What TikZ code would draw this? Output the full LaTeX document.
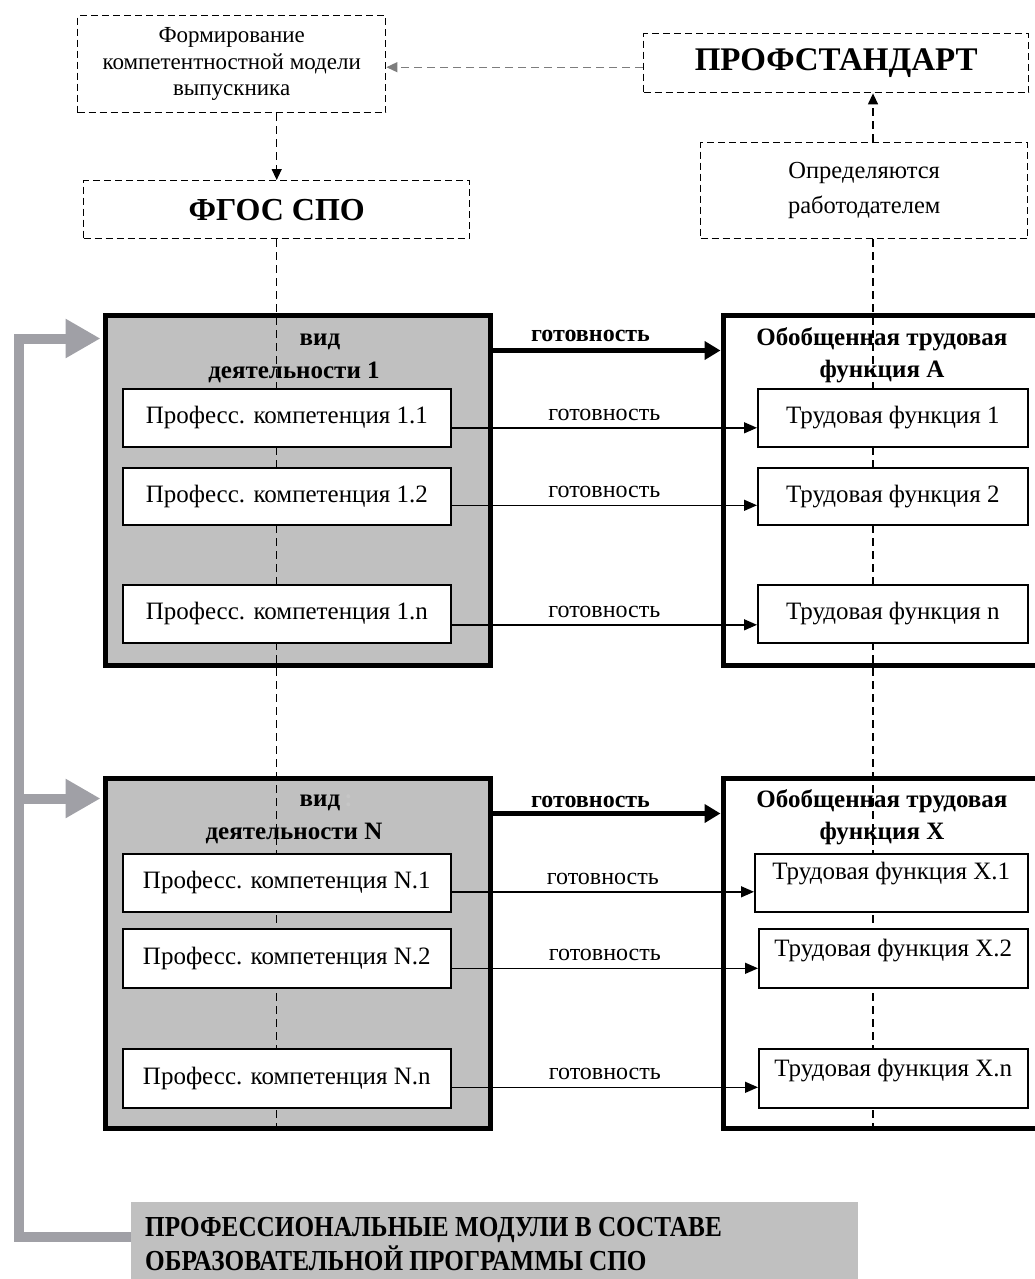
\documentclass[tikz,border=0pt]{standalone}
\usepackage{fontspec}
\setmainfont{Liberation Serif}[BoldFont={Liberation Serif Bold}]
\newfontfamily\condfont[FakeStretch=0.87,BoldFont={Liberation Serif Bold}]{Liberation Serif}
\usetikzlibrary{arrows.meta,calc}
\definecolor{boxgray}{RGB}{192,192,192}
\definecolor{linkgray}{RGB}{160,160,166}
\definecolor{dashgray}{RGB}{125,125,125}
\newcommand\myfs[2]{\fontsize{#1}{#2}\selectfont}
\begin{document}
\begin{tikzpicture}[x=1pt,y=-1pt,
  dbox/.style={draw, dash pattern=on 7pt off 4pt, line width=1.4pt, anchor=north west, inner sep=0pt, align=center},
  gbox/.style={draw, fill=boxgray, line width=5pt, anchor=north west, inner sep=0pt},
  wfbox/.style={draw, fill=white, line width=5pt, anchor=north west, inner sep=0pt},
  wbox/.style={draw, fill=white, line width=1.6pt, anchor=north west, inner sep=0pt, font=\myfs{25}{30}},
  ebox/.style={draw, fill=white, line width=1.6pt, anchor=north west, inner sep=0pt},
  dline/.style={dash pattern=on 8pt off 5pt, line width=1.3pt},
  darrow/.style={dline, -{Triangle[length=11pt,width=10pt]}},
  tarrow/.style={line width=1.4pt, -{Triangle[length=13pt,width=11pt]}},
  barrow/.style={line width=5pt, -{Triangle[length=16pt,width=18pt]}},
  gline/.style={line width=10pt, draw=linkgray},
  lab/.style={font=\myfs{24}{28}, inner sep=0pt},
  tlab/.style={font=\myfs{25}{30}, inner sep=0pt},
  blab/.style={font=\myfs{25}{30}\bfseries, inner sep=0pt},
  bglab/.style={font=\myfs{24}{28}\bfseries, inner sep=0pt},
]
\useasboundingbox (0,0) rectangle (1035,1279);
\clip (0,0) rectangle (1035,1279);

% top dashed boxes
\node[dbox, minimum width=308pt, minimum height=97pt, font=\myfs{23}{26.7}] (form) at (77,15) {Формирование\\компетентностной модели\\выпускника};
\node[dbox, minimum width=385pt, minimum height=59pt, font=\myfs{33}{38}\bfseries] (prof) at (643,33) {ПРОФСТАНДАРТ};
\node[dbox, minimum width=386pt, minimum height=58pt, font=\myfs{32}{36}\bfseries] (fgos) at (83,180) {ФГОС СПО};
\node[dbox, minimum width=327pt, minimum height=96pt, font=\myfs{24.5}{35}] (opr) at (700,142) {Определяются\\работодателем};

\coordinate (pl) at ([yshift=-4pt]prof.west);
\coordinate (vx) at (873,0);
\draw[darrow, draw=dashgray] (pl) -- (pl -| form.east);
\draw[darrow] (fgos.north |- form.south) -- (fgos.north);
\draw[darrow] (vx |- opr.north) -- (vx |- prof.south);

% big boxes
\node[gbox, minimum width=385pt, minimum height=350pt] (b1) at (102.5,312.5) {};
\node[wfbox, minimum width=340pt, minimum height=350pt] (bA) at (720.5,312.5) {};
\node[gbox, minimum width=385pt, minimum height=350pt] (bN) at (102.5,775.5) {};
\node[wfbox, minimum width=340pt, minimum height=350pt] (bX) at (720.5,775.5) {};

% dashed verticals
\draw[dline] (fgos.south) -- (fgos.south |- bN.south);
\draw[dline] (vx |- opr.south) -- (vx |- bX.south);

% titles
\node[blab] (t1a) at (320,342) {вид};
\node[blab] (t1b) at (294,372) {деятельности 1};
\node[blab] (tAa) at (882,339) {Обобщенная трудовая};
\node[blab] (tAb) at (882,372) {функция А};
\node[blab] (tNa) at (320,803) {вид\rlap{\,{\color{gray!45}:}}};
\node[blab] (tNb) at (294,833) {деятельности N};
\node[blab] (tXa) at (882,801) {Обобщенная трудовая};
\node[blab] (tXb) at (882,834) {функция X};

% inner boxes, block 1
\node[wbox, minimum width=328pt, minimum height=58pt] (p11) at (122,388) {Професс. компетенция 1.1};
\node[wbox, minimum width=328pt, minimum height=57pt] (p12) at (122,467) {Професс. компетенция 1.2};
\node[wbox, minimum width=328pt, minimum height=58pt] (p1n) at (122,584) {Професс. компетенция 1.n};
\node[wbox, minimum width=270pt, minimum height=58pt] (f11) at (757,388) {Трудовая функция 1};
\node[wbox, minimum width=270pt, minimum height=57pt] (f12) at (757,467) {Трудовая функция 2};
\node[wbox, minimum width=270pt, minimum height=58pt] (f1n) at (757,584) {Трудовая функция n};

% inner boxes, block N
\node[wbox, minimum width=328pt, minimum height=58pt] (pN1) at (122,853) {Професс. компетенция N.1};
\node[wbox, minimum width=328pt, minimum height=59pt] (pN2) at (122,928) {Професс. компетенция N.2};
\node[wbox, minimum width=328pt, minimum height=59pt] (pNn) at (122,1048) {Професс. компетенция N.n};
\node[ebox, minimum width=273pt, minimum height=58pt] (fX1) at (754,853) {};
\node[ebox, minimum width=269pt, minimum height=59pt] (fX2) at (758,928) {};
\node[ebox, minimum width=269pt, minimum height=59pt] (fXn) at (758,1048) {};
\node[tlab] (fX1t) at ([yshift=9pt]fX1.center) {Трудовая функция X.1};
\node[tlab] (fX2t) at ([yshift=8pt]fX2.center) {Трудовая функция X.2};
\node[tlab] (fXnt) at ([yshift=8pt]fXn.center) {Трудовая функция X.n};

% thick arrows
\draw[barrow] ([yshift=-38pt]b1.north east) -- ([yshift=-38pt]bA.north west)
  node[bglab, midway, xshift=-16pt, yshift=15pt] (gb1) {готовность};
\draw[barrow] ([yshift=-38pt]bN.north east) -- ([yshift=-38pt]bX.north west)
  node[bglab, midway, xshift=-16pt, yshift=12pt] (gbN) {готовность};

% thin arrows
\draw[tarrow] ([yshift=-10pt]p11.east) -- ([yshift=-10pt]f11.west) node[lab, midway, yshift=13pt] (g11) {готовность};
\draw[tarrow] ([yshift=-9pt]p12.east) -- ([yshift=-9pt]f12.west) node[lab, midway, yshift=13pt] (g12) {готовность};
\draw[tarrow] ([yshift=-11pt]p1n.east) -- ([yshift=-11pt]f1n.west) node[lab, midway, yshift=13pt] (g1n) {готовность};
\draw[tarrow] ([yshift=-9pt]pN1.east) -- ([yshift=-9pt]fX1.west) node[lab, midway, yshift=13pt] (gN1) {готовность};
\draw[tarrow] ([yshift=-10pt]pN2.east) -- ([yshift=-10pt]fX2.west) node[lab, midway, yshift=13pt] (gN2) {готовность};
\draw[tarrow] ([yshift=-9pt]pNn.east) -- ([yshift=-9pt]fXn.west) node[lab, midway, yshift=13pt] (gNn) {готовность};

% bottom gray box and connector
\node[fill=boxgray, anchor=north west, minimum width=727pt, minimum height=80pt, inner sep=0pt] (pm) at (131,1202) {};
\node[font=\condfont\myfs{29}{34}\bfseries, align=left, anchor=west, inner sep=0pt] (pmt) at (145,1244) {ПРОФЕССИОНАЛЬНЫЕ МОДУЛИ В СОСТАВЕ\\ОБРАЗОВАТЕЛЬНОЙ ПРОГРАММЫ СПО};
\coordinate (gx) at (19,0);
\coordinate (a1) at ([yshift=-26pt,xshift=-2pt]b1.north west);
\coordinate (aN) at ([yshift=-23pt,xshift=-2pt]bN.north west);
\draw[gline, -{Triangle[length=35pt,width=37pt]}] ([yshift=5pt]pm.west) -| (gx |- a1) -- (a1);
\draw[gline, -{Triangle[length=35pt,width=37pt]}] (gx |- aN) -- (aN);
\end{tikzpicture}
\end{document}
